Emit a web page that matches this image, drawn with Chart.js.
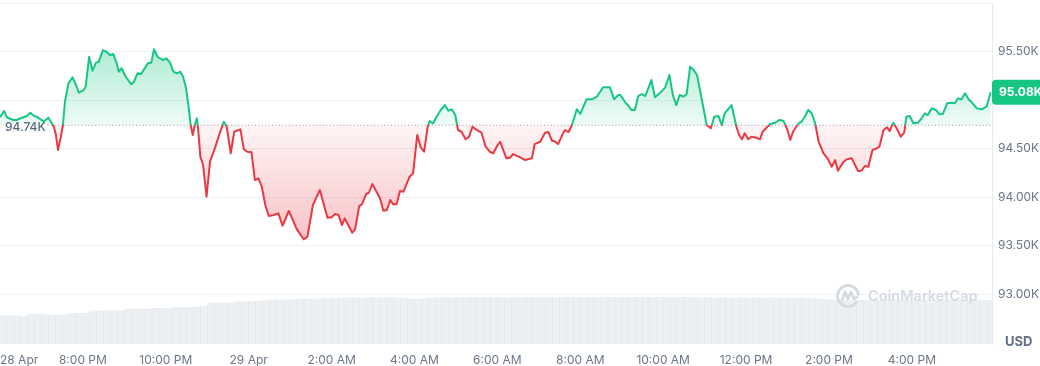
<!DOCTYPE html>
<html>
<head>
<meta charset="utf-8">
<title>BTC 24h</title>
<script src="https://cdn.jsdelivr.net/npm/chart.js@4.4.1/dist/chart.umd.min.js"></script>
<style>
  html, body { margin: 0; padding: 0; background: #ffffff; }
  #wrap { width: 1040px; height: 366px; position: relative; }
</style>
</head>
<body>
<div id="wrap"><canvas id="priceChart"></canvas></div>
<script>
// ══════════════════════════════════════════════
// DATA (minutes after 6:00 PM, 28 Apr)
// ══════════════════════════════════════════════

const priceMinutes = [0,6,10,14,19,24,29,34,39,44,48,53,63,68,70,75,78,81,84,88,91,94,99,105,110,114,121,124,129,134,139,143,149,154,159,164,169,172,176,182,190,194,199,204,214,219,223,228,236,241,246,251,256,261,265,269,273,276,279,282,285,287,290,294,299,304,311,318,324,328,334,339,348,353,358,364,369,374,379,384,389,396,403,409,418,423,429,437,440,445,453,463,474,480,485,490,495,499,504,510,514,520,524,530,534,539,545,550,555,560,565,569,574,579,584,589,593,598,604,609,614,619,622,627,632,638,644,649,654,659,663,668,674,679,684,690,697,703,709,714,719,724,733,738,743,753,760,770,774,782,789,794,799,803,808,815,818,823,828,835,840,849,857,864,873,883,889,895,898,906,909,914,919,924,929,934,943,948,955,963,969,974,979,984,989,994,999,1004,1009,1016,1023,1029,1034,1040,1045,1049,1059,1066,1070,1074,1078,1083,1088,1095,1100,1104,1115,1122,1128,1134,1139,1144,1148,1156,1160,1165,1170,1175,1180,1185,1192,1198,1204,1209,1213,1221,1226,1233,1242,1247,1252,1257,1263,1268,1273,1279,1284,1288,1293,1298,1304,1309,1312,1317,1322,1329,1334,1339,1343,1349,1355,1360,1365,1371,1378,1382,1387,1392,1397,1402,1408,1414,1421,1428,1434];

const prices = [94822,94887,94822,94809,94794,94794,94809,94822,94835,94869,94842,94828,94780,94804,94818,94760,94725,94639,94485,94619,94735,94982,95172,95234,95155,95075,95103,95137,95446,95302,95385,95395,95515,95498,95464,95474,95378,95292,95327,95240,95162,95189,95275,95265,95378,95385,95523,95446,95412,95430,95385,95292,95275,95292,95240,95131,94931,94742,94639,94742,94811,94691,94416,94330,94003,94364,94502,94657,94776,94732,94451,94673,94698,94492,94467,94461,94175,94193,94106,93918,93804,93815,93832,93704,93856,93780,93677,93591,93564,93591,93918,94072,93787,93791,93825,93815,93711,93780,93711,93632,93667,93907,93925,94031,94044,94134,94055,93987,93859,93866,93969,93925,93925,94062,94055,94141,94209,94244,94639,94512,94467,94719,94784,94760,94828,94897,94948,94890,94904,94845,94691,94673,94595,94622,94725,94691,94663,94519,94467,94451,94519,94570,94399,94405,94443,94409,94381,94399,94546,94570,94663,94670,94580,94574,94546,94657,94691,94670,94742,94904,94856,95007,95007,95034,95131,95131,95007,95052,95052,94966,94948,94897,94897,95041,95062,95041,95206,95028,95069,95131,95258,95052,94948,95052,95034,95062,95343,95309,95258,95000,94742,94708,94828,94835,94742,94863,94948,94725,94639,94595,94657,94595,94622,94611,94595,94673,94753,94766,94794,94787,94708,94588,94673,94760,94773,94828,94897,94863,94760,94570,94451,94399,94312,94381,94271,94364,94389,94399,94268,94271,94320,94312,94485,94498,94519,94691,94719,94680,94766,94708,94622,94663,94828,94835,94760,94766,94811,94863,94845,94914,94897,94853,94856,94966,94972,94966,95018,95007,95069,95007,94966,94914,94904,94931,95080];

// 24h volume (billion USD), one bar per 10 minutes
const volumes = [26.6,26.6,26.5,25.6,27.9,27.9,27.8,27.2,27.2,27.3,28.8,28.8,28.9,31.0,31.0,31.2,31.3,31.2,32.8,32.9,32.8,32.9,33.5,33.5,33.6,34.4,34.5,34.4,34.6,35.5,38.2,38.3,38.2,38.4,39.7,39.7,39.8,40.2,40.6,41.3,41.3,41.4,41.6,42.2,42.3,42.4,42.6,42.8,42.9,43.3,43.4,43.5,43.3,43.6,43.4,43.5,43.6,43.4,43.2,42.0,41.8,42.6,43.3,43.5,43.6,43.4,43.7,43.5,43.8,43.6,43.9,43.5,43.7,43.4,43.8,43.6,43.9,43.7,43.5,43.8,43.6,43.9,44.1,43.8,43.6,43.9,43.7,44.0,43.8,43.6,43.9,43.7,43.8,44.0,43.7,43.9,43.8,43.6,43.9,43.8,43.5,43.4,43.6,43.3,43.5,43.4,43.2,43.5,43.3,43.4,43.2,43.4,43.3,43.1,43.3,43.2,43.0,42.6,42.2,41.9,41.6,41.2,41.0,41.3,41.1,40.9,41.2,41.0,41.3,41.1,40.8,41.0,41.2,40.9,41.1,41.0,41.3,40.9,41.1,41.0,40.8,41.1,40.9,41.0];

const xTickMinutes = [0,120,240,360,480,600,720,840,960,1080,1200,1320];
const xTickLabels = ['28 Apr','8:00 PM','10:00 PM','29 Apr','2:00 AM','4:00 AM','6:00 AM','8:00 AM','10:00 AM','12:00 PM','2:00 PM','4:00 PM'];
const yTicks = [93000,93500,94000,94500,95000,95500,96000];

const openPrice = 94740;
const X_MAX = 1436;

// ══════════════════════════════════════════════
// COLORS
// ══════════════════════════════════════════════

const GREEN = '#16c784';
const RED = '#ea3943';
const LABEL = '#6b7689';
const GRID = '#eef1f5';

function fmtK(v) {
    return (v / 1000).toFixed(2) + 'K';
}

// one vertical gradient, split at the opening price
function splitGradient(chart, stops) {
    const { ctx, chartArea, scales } = chart;
    if (!chartArea || !scales.y) return GREEN;
    const y = scales.y;
    const top = y.getPixelForValue(Math.max(...prices));
    const bottom = y.getPixelForValue(Math.min(...prices));
    const base = y.getPixelForValue(openPrice);
    const f = Math.min(Math.max((base - top) / (bottom - top), 0.001), 0.999);
    const g = ctx.createLinearGradient(0, top, 0, bottom);
    g.addColorStop(0, stops[0]);
    g.addColorStop(f - 0.0005, stops[1]);
    g.addColorStop(f, stops[2]);
    g.addColorStop(1, stops[3]);
    return g;
}

// ══════════════════════════════════════════════
// OVERLAYS (open price tag, last price badge, watermark)
// ══════════════════════════════════════════════

const overlayPlugin = {
    id: 'overlay',
    afterDatasetDraw(chart, args) {
        if (args.index !== 2) return;
        const { ctx, chartArea, scales } = chart;
        const yb = scales.y.getPixelForValue(openPrice);
        ctx.save();
        ctx.fillStyle = '#ffffff';
        ctx.fillRect(chartArea.left, yb - 3, 47, 12);
        ctx.font = '500 12px Inter, sans-serif';
        ctx.fillStyle = '#58667e';
        ctx.textAlign = 'left';
        ctx.textBaseline = 'middle';
        ctx.fillText(fmtK(openPrice), chartArea.left + 5, yb + 2);
        ctx.restore();
    },
    afterDraw(chart) {
        const { ctx, chartArea, scales } = chart;
        const last = prices[prices.length - 1];
        const yl = scales.y.getPixelForValue(last);
        ctx.save();

        // last price badge
        const bx = chartArea.right, bw = chart.width - chartArea.right, bh = 25;
        ctx.fillStyle = GREEN;
        ctx.beginPath();
        ctx.roundRect(bx, yl - bh / 2, bw, bh, [4, 0, 0, 4]);
        ctx.fill();
        ctx.fillStyle = '#ffffff';
        ctx.font = 'bold 12px Inter, sans-serif';
        ctx.textAlign = 'left';
        ctx.textBaseline = 'middle';
        ctx.fillText(fmtK(last), bx + 7, yl);

        // currency
        ctx.fillStyle = '#616e85';
        ctx.font = 'bold 13px Inter, sans-serif';
        ctx.fillText('USD', chartArea.right + 13, chartArea.bottom - 2);

        // watermark
        const wx = chartArea.right - 144, wy = chartArea.bottom - 48;
        ctx.strokeStyle = '#d6dbe3';
        ctx.lineWidth = 2.8;
        ctx.lineCap = 'round';
        ctx.lineJoin = 'round';
        ctx.beginPath();
        ctx.arc(wx, wy, 10.5, 0.2 * Math.PI, 1.95 * Math.PI);
        ctx.stroke();
        ctx.beginPath();
        ctx.moveTo(wx - 6, wy + 4);
        ctx.lineTo(wx - 3, wy - 4);
        ctx.lineTo(wx, wy + 3);
        ctx.lineTo(wx + 3, wy - 4);
        ctx.lineTo(wx + 6, wy + 3);
        ctx.lineTo(wx + 9, wy + 1);
        ctx.stroke();
        ctx.fillStyle = '#d6dbe3';
        ctx.font = '600 14.5px Inter, sans-serif';
        ctx.textBaseline = 'middle';
        ctx.fillText('CoinMarketCap', wx + 20, wy + 1);

        ctx.restore();
    }
};

// ══════════════════════════════════════════════
// CHART
// ══════════════════════════════════════════════

new Chart(document.getElementById('priceChart'), {
    data: {
        datasets: [
            {
                type: 'line',
                label: 'Price',
                data: priceMinutes.map((m, i) => ({ x: m, y: prices[i] })),
                yAxisID: 'y',
                order: 1,
                borderWidth: 2,
                pointRadius: 0,
                tension: 0,
                borderJoinStyle: 'round',
                borderColor: c => splitGradient(c.chart, [GREEN, GREEN, RED, RED]),
                backgroundColor: c => splitGradient(c.chart, [
                    'rgba(22,199,132,0.34)', 'rgba(22,199,132,0.07)',
                    'rgba(234,57,67,0.05)', 'rgba(234,57,67,0.30)'
                ]),
                fill: { value: openPrice }
            },
            {
                type: 'bar',
                label: 'Volume',
                data: volumes.map((v, i) => ({ x: i * 10 + 5, y: v })),
                yAxisID: 'yv',
                order: 3,
                backgroundColor: 'rgba(200,207,218,0.32)',
                borderWidth: 0,
                barPercentage: 1,
                categoryPercentage: 1,
                grouped: false
            },
            {
                type: 'line',
                label: 'Open',
                data: [{ x: 0, y: openPrice }, { x: X_MAX, y: openPrice }],
                yAxisID: 'y',
                order: 2,
                borderColor: '#8d96a7',
                borderWidth: 1,
                borderDash: [1, 2.4],
                pointRadius: 0,
                fill: false
            }
        ]
    },
    options: {
        responsive: true,
        maintainAspectRatio: false,
        animation: false,
        layout: { padding: { top: 3, left: 0, right: 0, bottom: 0 } },
        plugins: {
            legend: { display: false },
            tooltip: { enabled: false }
        },
        scales: {
            x: {
                type: 'linear',
                min: 0,
                max: X_MAX,
                offset: false,
                grid: { display: false, drawTicks: false, offset: false },
                border: { display: false },
                afterBuildTicks: s => { s.ticks = xTickMinutes.concat([X_MAX]).map(v => ({ value: v })); },
                afterFit: s => { s.height = 22; s.paddingLeft = 0; s.paddingRight = 0; },
                ticks: {
                    autoSkip: false,
                    maxRotation: 0,
                    minRotation: 0,
                    align: 'inner',
                    padding: 9,
                    color: LABEL,
                    font: { family: 'Inter', size: 12 },
                    callback: (v, i) => xTickLabels[i] ?? ''
                }
            },
            y: {
                type: 'linear',
                position: 'right',
                min: 92485,
                max: 96000,
                grid: { color: GRID, drawTicks: false },
                border: { display: true, color: '#e7eaef' },
                afterBuildTicks: s => { s.ticks = yTicks.map(v => ({ value: v })); },
                afterFit: s => { s.width = 48; s.paddingTop = 0; s.paddingBottom = 0; },
                ticks: {
                    padding: 6,
                    color: LABEL,
                    font: { family: 'Inter', size: 12 },
                    callback: v => (v >= 96000 ? '' : fmtK(v))
                }
            },
            yv: {
                type: 'linear',
                display: false,
                min: 0,
                max: 320
            }
        }
    },
    plugins: [overlayPlugin]
});
</script>
</body>
</html>
